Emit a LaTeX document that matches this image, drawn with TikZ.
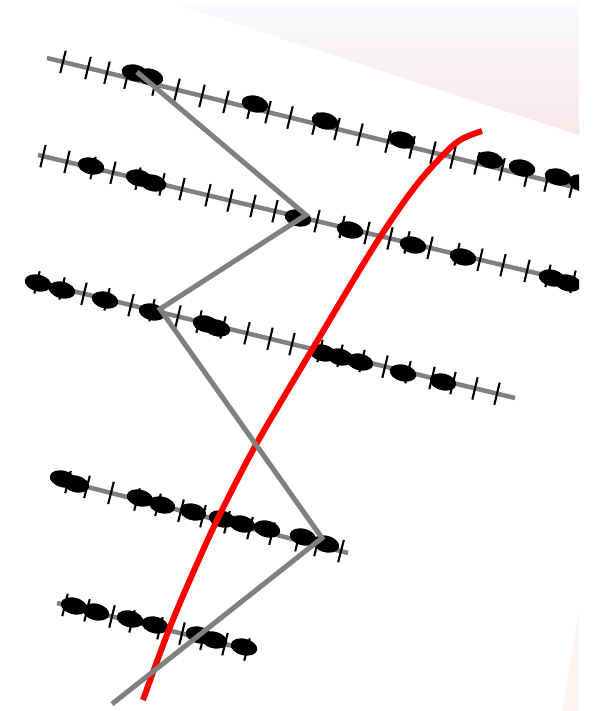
\documentclass[tikz,border=0pt]{standalone}
\usepackage{xcolor}
\definecolor{linegray}{HTML}{808080}
\definecolor{bgtop}{HTML}{F8FAFD}
\definecolor{bgmid}{HTML}{FDFAF5}
\definecolor{bgbot}{HTML}{F9E8EA}
\definecolor{bgpink}{HTML}{FCF3F3}
\newcommand{\beadat}[3]{\fill[bead,shift={(#1,#2)},rotate=-#3] (0,0) ellipse (13.5 and 8.3);}
\newcommand{\tickrow}[5]{%
  \foreach \t in {#5} {\draw[tickmark] (\t,{#2+#3*(\t-#1)}) ++({#4+90}:11.5) -- ++({#4-90}:23);}}
\begin{document}
\begin{tikzpicture}[x=1pt,y=-1pt,
  grayline/.style={line width=4.5pt, draw=linegray},
  tickmark/.style={line width=2.1pt, draw=black},
  zigline/.style={line width=5pt, draw=linegray, line join=miter},
  redcurve/.style={line width=6pt, draw=red},
  bead/.style={fill=black}]
\useasboundingbox (0,0) rectangle (601,711);
\fill[white] (0,0) rectangle (601,711);
\shade[top color=bgtop, middle color=bgmid, bottom color=bgbot] (178,5) -- (579,5) -- (579,135) -- cycle;
\fill[bgpink] (562,711) -- (579,610) -- (579,711) -- cycle;
\begin{scope}
\clip (0,0) rectangle (579,711);
% gray lines
\coordinate (L1a) at (47,58);  \coordinate (L1b) at (580,188.5);
\coordinate (L2a) at (38,155); \coordinate (L2b) at (580,283.5);
\coordinate (L3a) at (27,280); \coordinate (L3b) at (515,398);
\coordinate (L4a) at (52,478); \coordinate (L4b) at (348,553);
\coordinate (L5a) at (57,603); \coordinate (L5b) at (245,649);
\draw[grayline] (L1a) -- (L1b);
\draw[grayline] (L2a) -- (L2b);
\draw[grayline] (L3a) -- (L3b);
\draw[grayline] (L4a) -- (L4b);
\draw[grayline] (L5a) -- (L5b);
% ticks
\tickrow{47}{58}{0.245}{13.77}{63,88,107,127,155,177,202,226,250,268,290,315,337,360,388,412,433,453,477,502,527,547,572}
\tickrow{38}{155}{0.237}{13.33}{43,67,93,113,138,162,182,208,230,253,275,317,342,367,390,407,430,457,480,503,527,548,573}
\tickrow{27}{280}{0.242}{13.6}{37,62,84,107,131,152,178,199,223,247,270,292,320,340,362,385,408,432,453,475,497}
\tickrow{52}{478}{0.253}{14.2}{68,87,111,137,158,181,203,227,250,272,298,317,341}
\tickrow{57}{603}{0.245}{13.77}{65,87,112,132,160,182,203,225,247}
% beads line 1
\beadat{135}{73}{13.77}\beadat{150}{77}{13.77}
\beadat{255}{104}{13.77}\beadat{325}{121}{13.77}\beadat{402}{140}{13.77}
\beadat{490}{160}{13.77}\beadat{522}{168}{13.77}\beadat{558}{177}{13.77}\beadat{582}{183}{13.77}
% beads line 2
\beadat{91}{166}{13.33}\beadat{139}{178}{13.33}\beadat{153}{183}{13.33}
\beadat{298}{218}{13.33}\beadat{350}{230}{13.33}\beadat{413}{245}{13.33}\beadat{463}{257}{13.33}
\beadat{552}{278}{13.33}\beadat{568}{283}{13.33}
% beads line 3
\beadat{38}{283}{13.6}\beadat{62}{290}{13.6}\beadat{105}{300}{13.6}\beadat{152}{312}{13.6}
\beadat{206}{324}{13.6}\beadat{217}{328}{13.6}
\beadat{323}{353}{13.6}\beadat{340}{357}{13.6}\beadat{360}{362}{13.6}
\beadat{403}{373}{13.6}\beadat{443}{382}{13.6}
% beads line 4
\beadat{63}{479}{14.2}\beadat{76}{484}{14.2}
\beadat{140}{498}{14.2}\beadat{162}{505}{14.2}\beadat{193}{512}{14.2}
\beadat{222}{519}{14.2}\beadat{242}{524}{14.2}\beadat{267}{529}{14.2}
\beadat{303}{537}{14.2}\beadat{326}{544}{14.2}
% beads line 5
\beadat{74}{606}{13.77}\beadat{96}{612}{13.77}
\beadat{130}{619}{13.77}\beadat{155}{625}{13.77}
\beadat{199}{635}{13.77}\beadat{214}{640}{13.77}\beadat{244}{647}{13.77}
% red curve
\draw[redcurve] plot[smooth, tension=0.6] coordinates {(482,131) (462,139) (446,152) (418,183) (390,222) (362,266) (313,348) (282,400) (253,450) (222,510) (200,557) (170,627) (143,700)};
% zigzag
\coordinate (V1) at (137,72);
\coordinate (V2) at (306,215);
\coordinate (V3) at (160,309);
\coordinate (V4) at (322,538);
\coordinate (V5) at (112,704);
\draw[zigline] (V1) -- (V2) -- (V3) -- (V4) -- (V5);
\end{scope}
\end{tikzpicture}
\end{document}
